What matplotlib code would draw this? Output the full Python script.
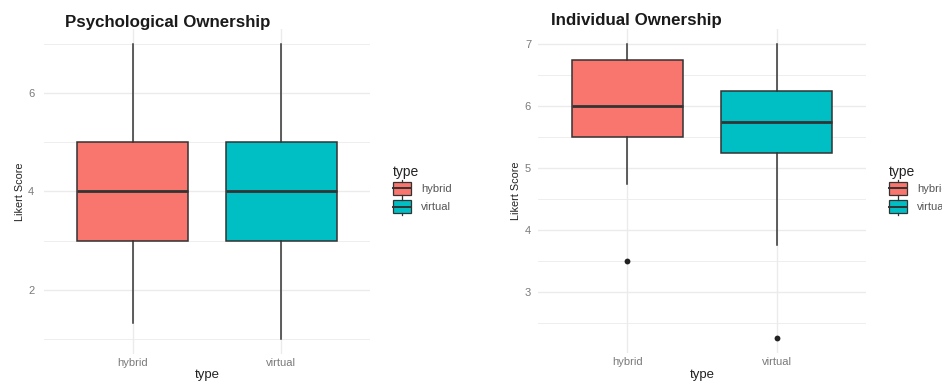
import numpy as np
import matplotlib
matplotlib.use("Agg")
import matplotlib.pyplot as plt
from matplotlib.patches import Patch, Rectangle
from matplotlib.lines import Line2D
from matplotlib.legend_handler import HandlerBase

plt.rcParams['font.family'] = ['Liberation Sans', 'DejaVu Sans']

types = ['hybrid', 'virtual']
fill_colors = ['#F8766D', '#00BFC4']

# Psychological ownership: box statistics per work type
psych_whislo = [1.33, 1.0]
psych_q1 = [3.0, 3.0]
psych_med = [4.0, 4.0]
psych_q3 = [5.0, 5.0]
psych_whishi = [7.0, 7.0]
psych_fliers = [[], []]

# Individual ownership
indiv_whislo = [4.75, 3.75]
indiv_q1 = [5.5, 5.25]
indiv_med = [6.0, 5.75]
indiv_q3 = [6.75, 6.25]
indiv_whishi = [7.0, 7.0]
indiv_fliers = [[3.5], [2.25]]

W, H = 942, 382
fig = plt.figure(figsize=(W / 100, H / 100), dpi=100)

dark = '#333333'
grid_col = '#ebebeb'


def px_axes(x0, x1, y0, y1):
    return fig.add_axes([x0 / W, 1 - y1 / H, (x1 - x0) / W, (y1 - y0) / H])


class BoxKey(HandlerBase):
    # little boxplot glyph like ggplot's legend key
    def create_artists(self, legend, orig_handle, xdescent, ydescent,
                       width, height, fontsize, trans):
        pad = height * 0.12
        rect = Rectangle((-xdescent, -ydescent + pad), width, height - 2 * pad,
                         facecolor=orig_handle.get_facecolor(),
                         edgecolor=dark, lw=0.9, transform=trans)
        mid = -ydescent + height / 2
        med = Line2D([-xdescent, -xdescent + width], [mid, mid],
                     color=dark, lw=1.4, transform=trans)
        cx = -xdescent + width / 2
        wt = Line2D([cx, cx], [-ydescent + height - pad, -ydescent + height],
                    color=dark, lw=0.9, transform=trans)
        wb = Line2D([cx, cx], [-ydescent, -ydescent + pad],
                    color=dark, lw=0.9, transform=trans)
        return [rect, med, wt, wb]


def draw_panel(ax, whislo, q1, med, q3, whishi, fliers, ylim, major, minor,
               ypad, ylabelpad):
    stats = []
    for i in range(len(types)):
        stats.append(dict(whislo=whislo[i], q1=q1[i], med=med[i], q3=q3[i],
                          whishi=whishi[i], fliers=fliers[i], label=types[i]))
    parts = ax.bxp(stats, positions=[1, 2], widths=0.75, patch_artist=True,
                   showcaps=False,
                   boxprops=dict(edgecolor=dark, lw=1.1),
                   medianprops=dict(color=dark, lw=2.0),
                   whiskerprops=dict(color=dark, lw=1.1),
                   flierprops=dict(marker='o', markerfacecolor='#222222',
                                   markeredgecolor='none', markersize=4.2))
    for box, c in zip(parts['boxes'], fill_colors):
        box.set_facecolor(c)
    ax.set_xlim(0.4, 2.6)
    ax.set_ylim(*ylim)
    ax.set_yticks(major)
    ax.set_yticks(minor, minor=True)
    ax.set_xticks([1, 2])
    ax.set_xticklabels(types)
    ax.grid(which='major', color=grid_col, lw=1.0)
    ax.grid(which='minor', axis='y', color=grid_col, lw=0.6)
    ax.set_axisbelow(True)
    for s in ax.spines.values():
        s.set_visible(False)
    ax.tick_params(which='both', length=0, labelsize=8, labelcolor='#7a7a7a')
    ax.tick_params(axis='x', pad=3)
    ax.tick_params(axis='y', pad=ypad)
    ax.set_ylabel('Likert Score', fontsize=7.8, color='#222222',
                  labelpad=ylabelpad)
    # x axis title sits just below the tick labels
    pos = ax.get_position()
    fig.text(pos.x0 + pos.width / 2, 1 - 378 / H, 'type', fontsize=9.5,
             color='#222222', ha='center', va='baseline')


def draw_legend(ax, x, y):
    handles = [Patch(facecolor=c) for c in fill_colors]
    leg = ax.legend(handles, types, title='type', loc='upper left',
                    bbox_to_anchor=(x / W, 1 - y / H),
                    bbox_transform=fig.transFigure, frameon=False,
                    fontsize=8, title_fontsize=10, alignment='left',
                    handler_map={Patch: BoxKey()}, handlelength=1.65,
                    handleheight=2.0, handletextpad=0.85, labelspacing=0.08,
                    borderpad=0, borderaxespad=0)
    leg.get_title().set_color('#222222')
    for t in leg.get_texts():
        t.set_color('#555555')


ax1 = px_axes(44, 370, 29.3, 353.7)
draw_panel(ax1, psych_whislo, psych_q1, psych_med, psych_q3, psych_whishi,
           psych_fliers, (0.7, 7.3), [2, 4, 6], [1, 3, 5, 7], 7, 2)
draw_legend(ax1, 393, 165)
fig.text(65 / W, 1 - 27 / H, 'Psychological Ownership', fontsize=12.2,
         fontweight='bold', color='#1a1a1a', va='baseline')

ax2 = px_axes(538, 866, 29.3, 353.2)
draw_panel(ax2, indiv_whislo, indiv_q1, indiv_med, indiv_q3, indiv_whishi,
           indiv_fliers, (2.0125, 7.2375), [3, 4, 5, 6, 7],
           [2.5, 3.5, 4.5, 5.5, 6.5], 5, 3)
draw_legend(ax2, 889, 165)
fig.text(551 / W, 1 - 25 / H, 'Individual Ownership', fontsize=12.2,
         fontweight='bold', color='#1a1a1a', va='baseline')

fig.savefig('out.png', dpi=100)
